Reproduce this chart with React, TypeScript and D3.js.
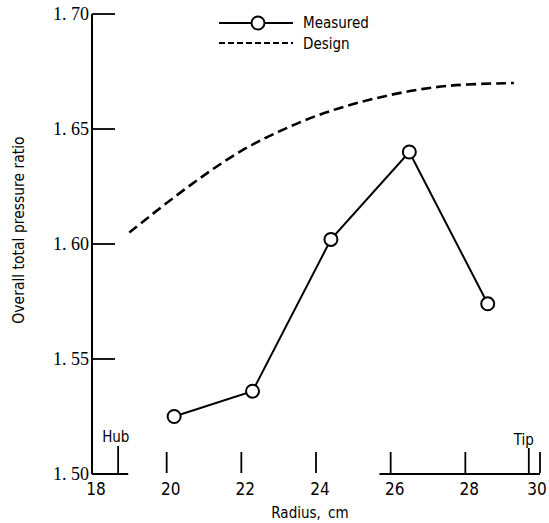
import React from 'react';
import * as d3 from 'd3';

// Measured points (radius, cm / overall total pressure ratio)
const measuredRadius = [20.2, 22.3, 24.4, 26.5, 28.6];
const measuredRatio = [1.525, 1.536, 1.602, 1.640, 1.574];

// Design curve
const designRadius = [19.0, 20.0, 21.0, 22.0, 23.0, 24.0, 25.0, 26.0, 27.0, 28.0, 29.3];
const designRatio = [1.605, 1.618, 1.630, 1.641, 1.649, 1.656, 1.661, 1.665, 1.668, 1.6695, 1.670];

const xTicks = [20, 22, 24, 26, 28, 30];
const xLabels = ['18', '20', '22', '24', '26', '28', '30'];
const yTicks = [1.50, 1.55, 1.60, 1.65, 1.70];
const yLabels = ['1. 50', '1. 55', '1. 60', '1. 65', '1. 70'];

const hubRadius = 18.7;
const tipRadius = 29.7;
// pieces of the baseline that survive in the original plot
const baseSegments: [number, number][] = [[18, 18.97], [25.7, 30]];

const SANS = "'DejaVu Sans Condensed', 'Liberation Sans Narrow', sans-serif";
const SERIF = "'Liberation Serif', serif";

export default function App() {
  const W = 549, H = 523;
  const x = d3.scaleLinear().domain([18, 30]).range([92, 540]);
  const y = d3.scaleLinear().domain([1.5, 1.7]).range([474, 14]);

  const measured = measuredRadius.map((r, i) => [r, measuredRatio[i]] as [number, number]);
  const design = designRadius.map((r, i) => [r, designRatio[i]] as [number, number]);

  const line = d3.line<[number, number]>().x(d => x(d[0])).y(d => y(d[1]));
  const smooth = d3.line<[number, number]>().x(d => x(d[0])).y(d => y(d[1])).curve(d3.curveBasis);

  const x0 = x(18), yb = y(1.5);

  return (
    <svg width={W} height={H} viewBox={`0 0 ${W} ${H}`}
      style={{ position: 'absolute', left: 0, top: 0, background: '#fff' }}>
      {/* y axis */}
      <line x1={x0} x2={x0} y1={y(1.7)} y2={yb} stroke="#000" strokeWidth={2} />
      {yTicks.map((t, i) => (
        <g key={t}>
          {i > 0 && <line x1={x0} x2={x0 + 23} y1={y(t)} y2={y(t)} stroke="#000" strokeWidth={1.8} />}
          <text x={x0 - 3} y={y(t) + 6} textAnchor="end" fontFamily={SERIF} fontSize={18}>{yLabels[i]}</text>
        </g>
      ))}

      {/* x axis baseline pieces */}
      {baseSegments.map(([a, b], i) => (
        <line key={i} x1={x(a)} x2={x(b)} y1={yb} y2={yb} stroke="#000" strokeWidth={1.8} />
      ))}
      {xTicks.map(t => (
        <line key={t} x1={x(t)} x2={x(t)} y1={yb - 22} y2={yb - 1} stroke="#000" strokeWidth={1.8} />
      ))}
      {xLabels.map(l => (
        <text key={l} x={Math.min(x(+l) + 4, 537)} y={495} textAnchor="middle" fontFamily={SANS} fontSize={17}>{l}</text>
      ))}

      {/* hub / tip markers */}
      <line x1={x(hubRadius)} x2={x(hubRadius)} y1={yb - 28} y2={yb} stroke="#000" strokeWidth={1.8} />
      <text x={x(hubRadius) - 16} y={442} fontFamily={SANS} fontSize={15}>Hub</text>
      <line x1={x(tipRadius)} x2={x(tipRadius)} y1={yb - 26} y2={yb} stroke="#000" strokeWidth={1.8} />
      <text x={x(tipRadius) - 15} y={445} fontFamily={SANS} fontSize={15}>Tip</text>

      {/* axis titles */}
      <text x={310} y={518} textAnchor="middle" fontFamily={SANS} fontSize={15} wordSpacing={3}>Radius, cm</text>
      <text transform="translate(24,230) rotate(-90)" textAnchor="middle" fontFamily={SANS} fontSize={15.5}>
        Overall total pressure ratio
      </text>

      {/* design curve */}
      <path d={smooth(design) ?? ''} fill="none" stroke="#000" strokeWidth={2.6} strokeDasharray="10,5" />

      {/* measured */}
      <path d={line(measured) ?? ''} fill="none" stroke="#000" strokeWidth={2} />
      {measured.map((d, i) => (
        <circle key={i} cx={x(d[0])} cy={y(d[1])} r={6.5} fill="#fff" stroke="#000" strokeWidth={2} />
      ))}

      {/* legend */}
      <line x1={219} x2={293} y1={23} y2={23} stroke="#000" strokeWidth={2} />
      <circle cx={258} cy={23} r={6.5} fill="#fff" stroke="#000" strokeWidth={2} />
      <text x={303} y={28} fontFamily={SANS} fontSize={15}>Measured</text>
      <line x1={219} x2={293} y1={43} y2={43} stroke="#000" strokeWidth={2} strokeDasharray="6,3" />
      <text x={303} y={49} fontFamily={SANS} fontSize={15}>Design</text>
    </svg>
  );
}
